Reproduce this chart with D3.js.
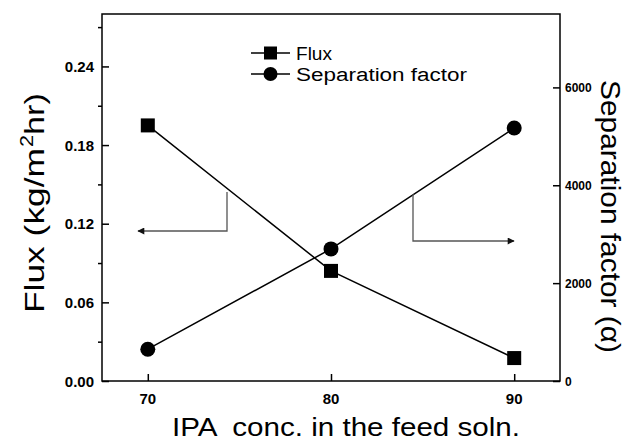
<!DOCTYPE html>
<html><head><meta charset="utf-8">
<script src="https://cdn.jsdelivr.net/npm/d3@7"></script>
<style>body{margin:0;background:#fff}svg{display:block}text{font-family:"Liberation Sans",Arial,sans-serif}</style>
</head><body>
<svg id="c" width="633" height="442"></svg>
<script>
const concentrations = [70, 80, 90];
const fluxValues = [0.195, 0.084, 0.0175];
const separationValues = [650, 2700, 5170];
const xTicks = [70, 80, 90];
const fluxTicks = [0.00, 0.06, 0.12, 0.18, 0.24];
const fluxMinorTicks = [0.03, 0.09, 0.15, 0.21, 0.27];
const sepTicks = [0, 2000, 4000, 6000];
const seriesNames = ["Flux", "Separation factor"];

const svg = d3.select("#c");
const L = 102, R = 560, T = 14, B = 381;
const x = d3.scaleLinear().domain([67.5, 92.5]).range([L, R]);
const yL = d3.scaleLinear().domain([0, 0.28]).range([B, T]);
const yR = d3.scaleLinear().domain([0, 7500]).range([B, T]);

// frame
svg.append("rect").attr("x", L).attr("y", T).attr("width", R - L).attr("height", B - T)
  .attr("fill", "none").attr("stroke", "#000").attr("stroke-width", 1.5);

// left axis: major inward, minor outward
const gL = svg.append("g").attr("transform", `translate(${L},0)`);
gL.call(d3.axisRight(yL).tickValues(fluxTicks).tickSize(7).tickFormat(""))
  .call(g => g.select(".domain").remove());
gL.selectAll(".tick line").attr("stroke-width", 1.5);
const gLm = svg.append("g").attr("transform", `translate(${L},0)`);
gLm.call(d3.axisLeft(yL).tickValues(fluxMinorTicks).tickSize(4).tickFormat(""))
  .call(g => g.select(".domain").remove());
gLm.selectAll(".tick line").attr("stroke-width", 1.5);
svg.selectAll(".lt").data(fluxTicks).join("text")
  .attr("x", 94).attr("y", d => yL(d) + 5.5).attr("text-anchor", "end")
  .attr("font-size", 15).attr("font-weight", "bold")
  .text(d => d3.format(".2f")(d));

// right axis ticks inward
const gR = svg.append("g").attr("transform", `translate(${R},0)`);
gR.call(d3.axisLeft(yR).tickValues(sepTicks).tickSize(7).tickFormat(""))
  .call(g => g.select(".domain").remove());
gR.selectAll(".tick line").attr("stroke-width", 1.5);
svg.selectAll(".rt").data(sepTicks).join("text")
  .attr("x", 565).attr("y", d => yR(d) + 4.5).attr("text-anchor", "start")
  .attr("font-size", 12).attr("font-weight", "bold")
  .text(d => d);

// bottom axis ticks inward
const gB = svg.append("g").attr("transform", `translate(0,${B})`);
gB.call(d3.axisTop(x).tickValues(xTicks).tickSize(7).tickFormat(""))
  .call(g => g.select(".domain").remove());
gB.selectAll(".tick line").attr("stroke-width", 1.5);
svg.selectAll(".xt").data(xTicks).join("text")
  .attr("x", d => x(d)).attr("y", 404).attr("text-anchor", "middle")
  .attr("font-size", 15).attr("font-weight", "bold")
  .text(d => d);

// titles
svg.append("text").attr("x", 172).attr("y", 436).attr("font-size", 26)
  .attr("textLength", 348).attr("lengthAdjust", "spacingAndGlyphs")
  .style("white-space", "pre")
  .text("IPA  conc. in the feed soln.");

// left title in three pieces (main, superscript, rest)
const ftG = svg.append("g").attr("transform", "translate(44,313) rotate(-90)");
ftG.append("text").attr("x", 0).attr("y", 0).attr("font-size", 28)
  .attr("textLength", 165).attr("lengthAdjust", "spacingAndGlyphs").text("Flux (kg/m");
ftG.append("text").attr("x", 166).attr("y", -11).attr("font-size", 18)
  .attr("textLength", 12).attr("lengthAdjust", "spacingAndGlyphs").text("2");
ftG.append("text").attr("x", 178).attr("y", 0).attr("font-size", 28)
  .attr("textLength", 42).attr("lengthAdjust", "spacingAndGlyphs").text("hr)");

svg.append("text").attr("transform", "translate(601,80) rotate(90)")
  .attr("text-anchor", "start").attr("font-size", 28)
  .attr("textLength", 273).attr("lengthAdjust", "spacingAndGlyphs")
  .text("Separation factor (\u03B1)");

// lines
const lineL = d3.line().x((d, i) => x(concentrations[i])).y(d => yL(d));
const lineR = d3.line().x((d, i) => x(concentrations[i])).y(d => yR(d));
svg.append("path").attr("d", lineL(fluxValues)).attr("fill", "none").attr("stroke", "#000").attr("stroke-width", 1.5);
svg.append("path").attr("d", lineR(separationValues)).attr("fill", "none").attr("stroke", "#000").attr("stroke-width", 1.5);

const sq = 14;
svg.selectAll(".sq").data(fluxValues).join("rect")
  .attr("x", (d, i) => x(concentrations[i]) - sq / 2).attr("y", d => yL(d) - sq / 2)
  .attr("width", sq).attr("height", sq).attr("fill", "#000");
svg.selectAll(".ci").data(separationValues).join("circle")
  .attr("cx", (d, i) => x(concentrations[i])).attr("cy", d => yR(d)).attr("r", 7.5).attr("fill", "#000");

// legend
const lg = svg.append("g");
const legLens = [36, 171];
[53, 74].forEach((yy, i) => {
  lg.append("line").attr("x1", 251).attr("x2", 290).attr("y1", yy).attr("y2", yy).attr("stroke", "#000").attr("stroke-width", 1.5);
  if (i === 0) lg.append("rect").attr("x", 270.5 - 6.5).attr("y", yy - 6.5).attr("width", 13).attr("height", 13).attr("fill", "#000");
  else lg.append("circle").attr("cx", 270.5).attr("cy", yy).attr("r", 7).attr("fill", "#000");
  lg.append("text").attr("x", 296).attr("y", yy + 6.5).attr("font-size", 18)
    .attr("textLength", legLens[i]).attr("lengthAdjust", "spacingAndGlyphs").text(seriesNames[i]);
});

// arrows
svg.append("defs").append("marker").attr("id", "ah").attr("viewBox", "0 0 10 10")
  .attr("refX", 9).attr("refY", 5).attr("markerWidth", 11).attr("markerHeight", 7)
  .attr("markerUnits", "userSpaceOnUse").attr("orient", "auto")
  .append("path").attr("d", "M0,0L10,5L0,10z").attr("fill", "#111");
svg.append("path").attr("d", "M227,192V231H138").attr("fill", "none").attr("stroke", "#555").attr("stroke-width", 1.3).attr("marker-end", "url(#ah)");
svg.append("path").attr("d", "M413,194V241H514").attr("fill", "none").attr("stroke", "#555").attr("stroke-width", 1.3).attr("marker-end", "url(#ah)");
</script>
</body></html>
